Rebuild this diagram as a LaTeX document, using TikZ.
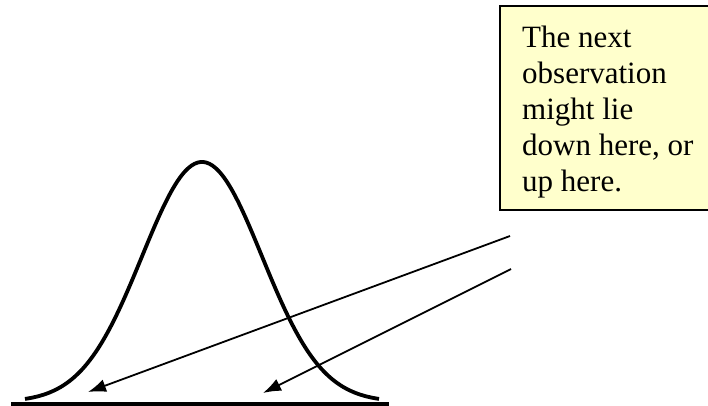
\documentclass[tikz,border=0pt]{standalone}
\usepackage{fontspec}
\setmainfont{Liberation Serif}
\usetikzlibrary{arrows.meta}
\usetikzlibrary{positioning}
\definecolor{noteyellow}{HTML}{FFFFCC}

\begin{document}
\begin{tikzpicture}[
    x=1pt, y=-1pt,
    % Define styles
    curve/.style={line width=3.8pt},
    pointer/.style={-{Latex[length=18pt, width=13pt]}, line width=1.8pt},
    notebox/.style={draw, line width=1.6pt, fill=noteyellow, anchor=north west,
        minimum width=230pt, minimum height=204pt, inner sep=0pt},
    notetext/.style={align=left, inner sep=0pt, anchor=north west,
        font=\fontsize{31}{36}\selectfont}
]
\useasboundingbox (0,0) rectangle (708,406);

% Bell-curve parameters
\def\peakx{202}
\def\spread{60}

% Axis line
\draw[line width=4.5pt] (11,404) -- (389,404);

% Bell curve
\draw[curve] plot[domain=-177:177, samples=120, smooth]
    ({\peakx+\x}, {402-240*exp(-0.5*(\x/\spread)^2)});

% Note box
\node[notebox] (note) at (499,5) {};
\node[notetext] (notetxt) at (522,26) {The next\\observation\\might lie\\down here, or\\up here.};

% Pointers
\coordinate (srcA) at (510,236);
\coordinate (tipA) at (88,392);
\coordinate (srcB) at (511,269);
\coordinate (tipB) at (263,393);
\draw[pointer] (srcA) -- (tipA);
\draw[pointer] (srcB) -- (tipB);

\end{tikzpicture}
\end{document}
